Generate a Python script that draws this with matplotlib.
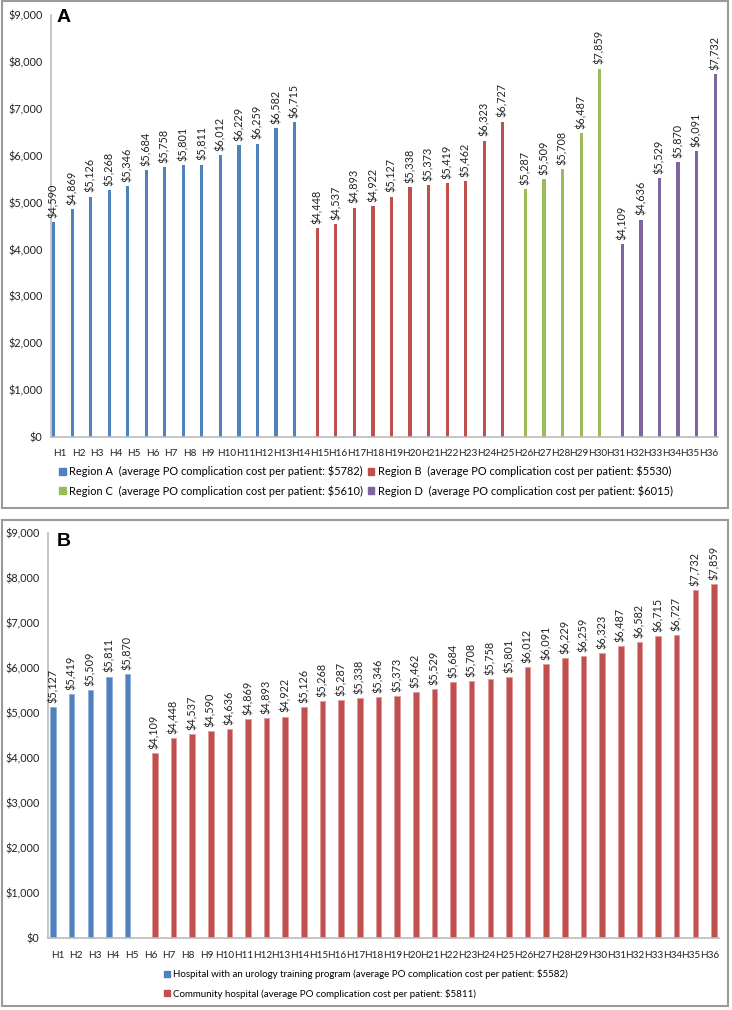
import matplotlib.pyplot as plt
from matplotlib.patches import Rectangle, Patch
from matplotlib.ticker import FuncFormatter
import numpy as np

plt.rcParams['font.family'] = ['Lato', 'DejaVu Sans']

hospitals = ["H%d" % i for i in range(1, 37)]

# panel A - by region
region_a = [4590, 4869, 5126, 5268, 5346, 5684, 5758, 5801, 5811, 6012, 6229, 6259, 6582, 6715]
region_b = [4448, 4537, 4893, 4922, 5127, 5338, 5373, 5419, 5462, 6323, 6727]
region_c = [5287, 5509, 5708, 6487, 7859]
region_d = [4109, 4636, 5529, 5870, 6091, 7732]
region_labels = [
    "Region A  (average PO complication cost per patient: $5782)",
    "Region B  (average PO complication cost per patient: $5530)",
    "Region C  (average PO complication cost per patient: $5610)",
    "Region D  (average PO complication cost per patient: $6015)",
]

# panel B - by hospital type
training = [5127, 5419, 5509, 5811, 5870]
community = [4109, 4448, 4537, 4590, 4636, 4869, 4893, 4922, 5126, 5268, 5287,
             5338, 5346, 5373, 5462, 5529, 5684, 5708, 5758, 5801, 6012, 6091,
             6229, 6259, 6323, 6487, 6582, 6715, 6727, 7732, 7859]
type_labels = [
    "Hospital with an urology training program (average PO complication cost per patient: $5582)",
    "Community hospital (average PO complication cost per patient: $5811)",
]

colors = ["#4F81BD", "#C0504D", "#9BBB59", "#8064A2"]
W, H = 732, 1010
fig = plt.figure(figsize=(W / 100, H / 100), dpi=100)

money = FuncFormatter(lambda v, p: "${:,.0f}".format(v))


def style(ax):
    ax.set_xlim(-0.5, 35.5)
    ax.set_ylim(0, 9000)
    ax.set_yticks(range(0, 9001, 1000))
    ax.yaxis.set_major_formatter(money)
    ax.set_xticks(range(36))
    ax.set_xticklabels(hospitals)
    ax.tick_params(length=0, labelsize=7.8, colors="#222222")
    ax.tick_params(axis="x", pad=9, labelsize=7.2)
    ax.tick_params(axis="y", pad=6)
    for s in ["top", "right"]:
        ax.spines[s].set_visible(False)
    for s in ["left", "bottom"]:
        ax.spines[s].set_color("#BBBBBB")
        ax.spines[s].set_linewidth(1.2)


def box(y0, y1):
    fig.patches.append(Rectangle((2 / W, 1 - y1 / H), 726 / W, (y1 - y0) / H,
                                 transform=fig.transFigure, fill=False,
                                 edgecolor="#9A9A9A", lw=1.5))


box(1, 508)
box(520, 1006)

# ---- panel A
axA = fig.add_axes([50.7 / W, 1 - 437 / H, (718 - 50.7) / W, 422 / H])
style(axA)
groups = [region_a, region_b, region_c, region_d]
offsets = [-0.345, -0.115, 0.115, 0.345]
start = 0
for k, vals in enumerate(groups):
    x = np.arange(start, start + len(vals)) + offsets[k]
    bars = axA.bar(x, vals, width=0.17, color=colors[k])
    axA.bar_label(bars, labels=["${:,}".format(v) for v in vals], rotation=90,
                  padding=3, fontsize=7.8, color="#222222")
    start += len(vals)
axA.text(57 / W, 1 - 22 / H, "A", transform=fig.transFigure, fontsize=14,
         fontweight="bold", family="Liberation Sans")
# column-major fill -> A, B on first row, C, D on second
order = [0, 2, 1, 3]
axA.legend(handles=[Patch(color=colors[i], label=region_labels[i]) for i in order],
           loc="center", bbox_to_anchor=(0.5, 1 - 481 / H), bbox_transform=fig.transFigure,
           ncol=2, frameon=False, fontsize=7.9, handlelength=0.6, handleheight=0.6,
           handletextpad=0.3, columnspacing=0.4, labelspacing=0.75)

# ---- panel B
axB = fig.add_axes([48 / W, 1 - 938 / H, (719 - 48) / W, 405 / H])
style(axB)
xt = np.arange(len(training)) - 0.23
xc = np.arange(len(training), 36) + 0.23
b1 = axB.bar(xt, training, width=0.3, color=colors[0], edgecolor="#8FB0DA", lw=0.6)
b2 = axB.bar(xc, community, width=0.3, color=colors[1], edgecolor="#E09A98", lw=0.6)
for b, vals in [(b1, training), (b2, community)]:
    axB.bar_label(b, labels=["${:,}".format(v) for v in vals], rotation=90,
                  padding=3, fontsize=7.8, color="#222222")
axB.text(57 / W, 1 - 546 / H, "B", transform=fig.transFigure, fontsize=14,
         fontweight="bold", family="Liberation Sans")
axB.legend(handles=[Patch(color=colors[0], label=type_labels[0]),
                    Patch(color=colors[1], label=type_labels[1])],
           loc="center", bbox_to_anchor=(0.5, 1 - 984 / H), bbox_transform=fig.transFigure,
           ncol=1, frameon=False, fontsize=7.0, handlelength=0.6, handleheight=0.6,
           handletextpad=0.3, labelspacing=0.95)

fig.savefig("out.png", dpi=100)
